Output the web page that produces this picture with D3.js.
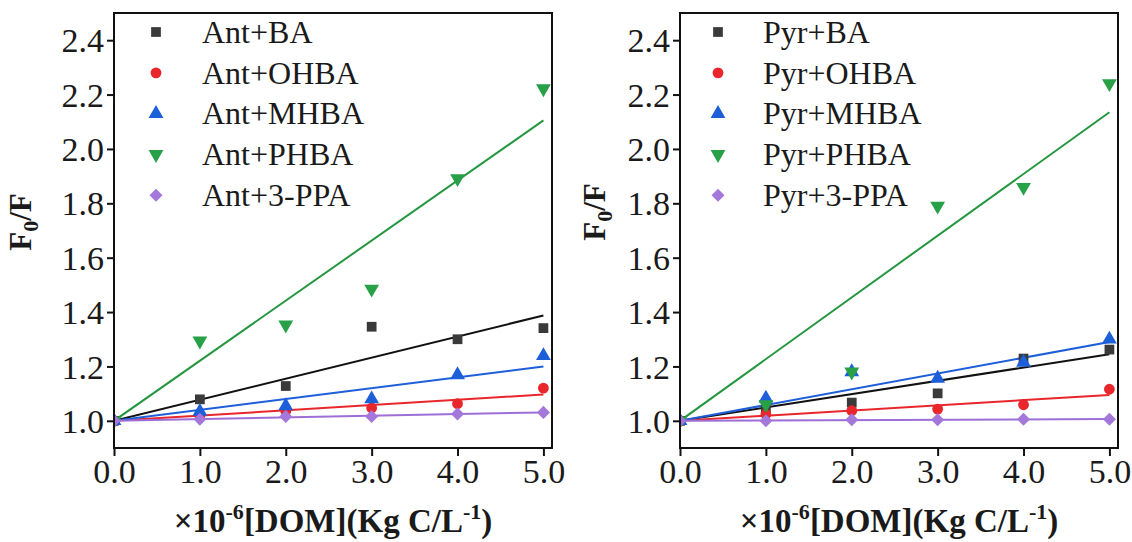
<!DOCTYPE html>
<html><head><meta charset="utf-8">
<script src="https://cdn.jsdelivr.net/npm/d3@7"></script>
<style>
body{margin:0;background:#fff}svg{display:block}
svg text{font-family:"Liberation Serif","Times New Roman",Tinos,"Nimbus Roman","DejaVu Serif",serif;}
</style>
</head><body>
<svg id="c" width="1132" height="542"></svg>
<script>
// ---- data ----
const xValues = [0, 1, 2, 3, 4, 5];
const xTickValues = [0, 1, 2, 3, 4, 5];
const yTickValues = [1.0, 1.2, 1.4, 1.6, 1.8, 2.0, 2.2, 2.4];

const antNames = ["Ant+BA", "Ant+OHBA", "Ant+MHBA", "Ant+PHBA", "Ant+3-PPA"];
const antBA   = [1.0, 1.079, 1.128, 1.346, 1.300, 1.341];
const antOHBA = [1.0, 1.020, 1.035, 1.047, 1.063, 1.120];
const antMHBA = [1.0, 1.034, 1.055, 1.080, 1.169, 1.239];
const antPHBA = [1.0, 1.294, 1.353, 1.485, 1.891, 2.222];
const antPPA  = [1.0, 1.006, 1.016, 1.016, 1.025, 1.031];
const antSlopes = [0.0775, 0.0193, 0.0400, 0.2210, 0.0062];

const pyrNames = ["Pyr+BA", "Pyr+OHBA", "Pyr+MHBA", "Pyr+PHBA", "Pyr+3-PPA"];
const pyrBA   = [1.0, 1.050, 1.067, 1.101, 1.229, 1.262];
const pyrOHBA = [1.0, 1.024, 1.037, 1.043, 1.059, 1.116];
const pyrMHBA = [1.0, 1.083, 1.180, 1.156, 1.215, 1.300];
const pyrPHBA = [1.0, 1.060, 1.180, 1.790, 1.859, 2.241];
const pyrPPA  = [1.0, 1.000, 1.004, 1.004, 1.006, 1.006];
const pyrSlopes = [0.0490, 0.0190, 0.0580, 0.2270, 0.0013];

// ---- styles ----
const markerColors = ["#3a3a3a", "#e8262b", "#1d5fd8", "#27a048", "#a477da"];
const lineColors   = ["#111111", "#e8262b", "#1d5fd8", "#23963f", "#9d6fd6"];

const svg = d3.select("#c");

function shapePath(i) {
  const types = [d3.symbolSquare, d3.symbolCircle, d3.symbolTriangle, d3.symbolTriangle, d3.symbolSquare];
  const sizes = [95, 92, 95, 95, 85];
  return d3.symbol().type(types[i]).size(sizes[i])();
}
function shapeRot(i) { return i === 3 ? 180 : (i === 4 ? 45 : 0); }

function panel(cfg) {
  const x = d3.scaleLinear().domain([0, 5.1]).range([cfg.left, cfg.right]);
  const y = d3.scaleLinear().domain([0.9, 2.5]).range([cfg.bottom, cfg.top]);
  const g = svg.append("g");

  // axes
  const xAxis = d3.axisBottom(x).tickValues(xTickValues).tickFormat(d3.format(".1f")).tickSizeOuter(0).tickSize(8).tickPadding(3);
  const yAxis = d3.axisLeft(y).tickValues(yTickValues).tickFormat(d3.format(".1f")).tickSizeOuter(0).tickSize(7).tickPadding(3);
  const gx = g.append("g").attr("transform", `translate(0,${cfg.bottom})`).call(xAxis);
  const gy = g.append("g").attr("transform", `translate(${cfg.left},0)`).call(yAxis);
  [gx, gy].forEach(a => {
    a.attr("font-family", null).attr("font-size", null);
    a.select(".domain").remove();
    a.selectAll("line").attr("stroke", "#111").attr("stroke-width", 2);
    a.selectAll("text").style("font-size", "34px").attr("fill", "#1a1a1a");
  });
  gx.selectAll("text").attr("dy", "0.71em");
  gy.selectAll("text").attr("dy", "0.34em");

  // clip
  const clipId = "clip" + cfg.id;
  svg.append("clipPath").attr("id", clipId).append("rect")
    .attr("x", cfg.left).attr("y", cfg.top).attr("width", cfg.right - cfg.left).attr("height", cfg.bottom - cfg.top);
  const plot = g.append("g").attr("clip-path", `url(#${clipId})`);

  const line = d3.line().x(d => x(d[0])).y(d => y(d[1]));
  cfg.series.forEach((vals, i) => {
    const fit = [[0, 1], [5, 1 + cfg.slopes[i] * 5]];
    plot.append("path").attr("d", line(fit)).attr("fill", "none")
      .attr("stroke", lineColors[i]).attr("stroke-width", 2);
  });
  cfg.series.forEach((vals, i) => {
    plot.selectAll(null).data(vals).enter().append("path")
      .attr("d", shapePath(i))
      .attr("transform", (d, j) => `translate(${x(xValues[j])},${y(d)}) rotate(${shapeRot(i)})`)
      .attr("fill", markerColors[i]);
  });

  // frame
  g.append("rect").attr("x", cfg.left).attr("y", cfg.top)
    .attr("width", cfg.right - cfg.left).attr("height", cfg.bottom - cfg.top)
    .attr("fill", "none").attr("stroke", "#111").attr("stroke-width", 2);

  // legend
  const lg = g.append("g");
  cfg.names.forEach((n, i) => {
    const yy = cfg.legendY0 + i * 40.8;
    lg.append("path").attr("d", shapePath(i))
      .attr("transform", `translate(${cfg.left + cfg.legendMarkerDx},${yy}) rotate(${shapeRot(i)})`)
      .attr("fill", markerColors[i]);
    lg.append("text").attr("x", cfg.left + cfg.legendTextDx).attr("y", yy).attr("dy", "0.34em")
      .style("font-size", "32px").attr("fill", "#1a1a1a").text(n);
  });

  // y label
  const yl = g.append("text")
    .attr("transform", `translate(${cfg.ylabX},${cfg.ylabY}) rotate(-90)`)
    .attr("text-anchor", "middle").attr("font-weight", "bold")
    .style("font-size", "31px").attr("fill", "#1a1a1a");
  yl.append("tspan").text("F");
  yl.append("tspan").style("font-size", "22px").attr("dy", 7).text("0");
  yl.append("tspan").attr("dy", -7).text("/F");

  // x label
  const xl = g.append("text")
    .attr("x", (cfg.left + cfg.right) / 2).attr("y", 532)
    .attr("text-anchor", "middle").attr("font-weight", "bold")
    .style("font-size", "33px").attr("fill", "#1a1a1a");
  xl.append("tspan").text("×10");
  xl.append("tspan").style("font-size", "22px").attr("dy", -13).text("-6");
  xl.append("tspan").attr("dy", 13).text("[DOM](Kg C/L");
  xl.append("tspan").style("font-size", "22px").attr("dy", -13).text("-1");
  xl.append("tspan").attr("dy", 13).text(")");
}

panel({
  id: "a", left: 114, right: 552, top: 13, bottom: 448,
  series: [antBA, antOHBA, antMHBA, antPHBA, antPPA], slopes: antSlopes, names: antNames,
  legendY0: 32, legendMarkerDx: 42, legendTextDx: 88, ylabX: 31, ylabY: 222
});
panel({
  id: "b", left: 680, right: 1118, top: 13, bottom: 448,
  series: [pyrBA, pyrOHBA, pyrMHBA, pyrPHBA, pyrPPA], slopes: pyrSlopes, names: pyrNames,
  legendY0: 32, legendMarkerDx: 38, legendTextDx: 83, ylabX: 605, ylabY: 212
});
</script>
</body></html>
